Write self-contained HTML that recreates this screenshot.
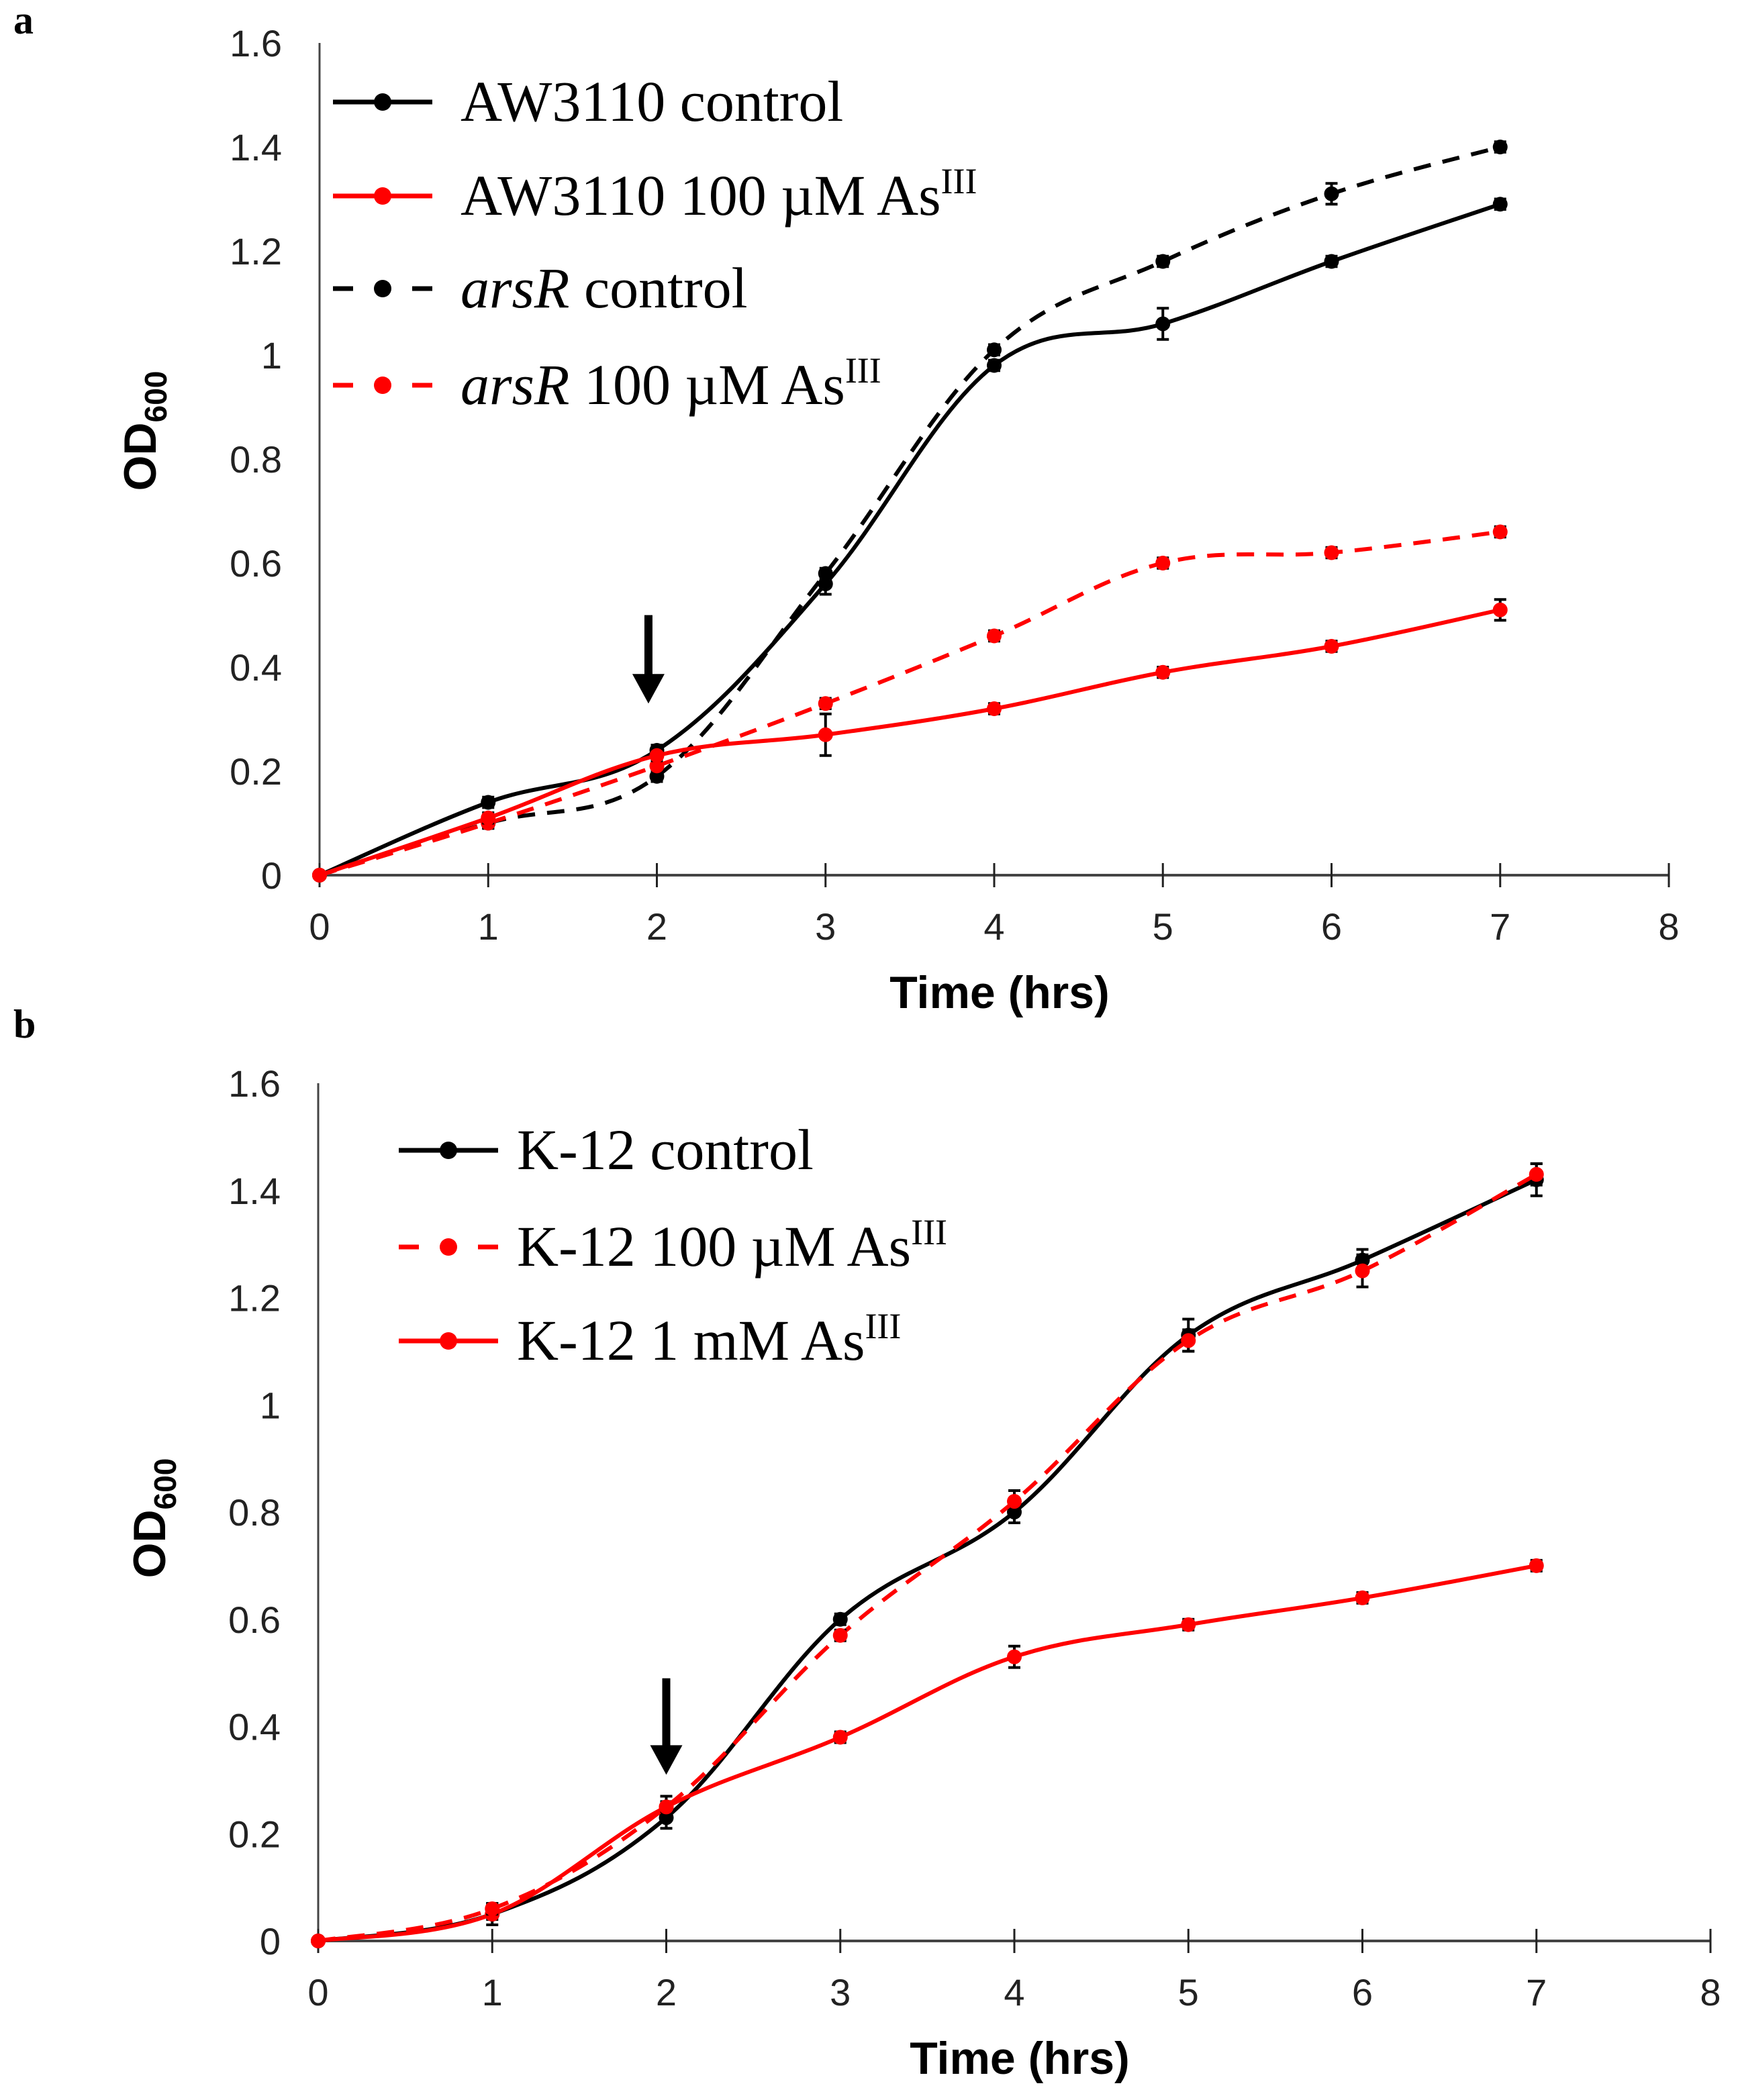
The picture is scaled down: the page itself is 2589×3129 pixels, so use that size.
<!DOCTYPE html>
<html><head><meta charset="utf-8"><style>
html,body{margin:0;padding:0;background:#fff}
svg{display:block}
.tk{font-family:"Liberation Sans",sans-serif;font-size:56px;fill:#222}
.ttl{font-family:"Liberation Sans",sans-serif;font-size:68px;font-weight:bold;fill:#000}
.lg{font-family:"Liberation Serif",serif;font-size:86px;fill:#000}
.pl{font-family:"Liberation Serif",serif;font-size:60px;font-weight:bold}
</style></head><body>
<svg id="s" width="2589" height="3129" viewBox="0 0 2589 3129">
<text class="pl" x="20" y="50">a</text>
<text class="pl" x="20" y="1546">b</text>
</svg>
<script>
const hours=[0,1,2,3,4,5,6,7];
const yTicks=[0,0.2,0.4,0.6,0.8,1,1.2,1.4,1.6];
const yTickLabels=["0","0.2","0.4","0.6","0.8","1","1.2","1.4","1.6"];
const xTickLabels=["0","1","2","3","4","5","6","7","8"];
const aw3110Control=[0,0.14,0.24,0.56,0.98,1.06,1.18,1.29];
const aw3110As=[0,0.11,0.23,0.27,0.32,0.39,0.44,0.51];
const arsRControl=[0,0.10,0.19,0.58,1.01,1.18,1.31,1.40];
const arsRAs=[0,0.10,0.21,0.33,0.46,0.60,0.62,0.66];
const k12Control=[0,0.05,0.23,0.60,0.80,1.13,1.27,1.42];
const k12As100=[0,0.06,0.25,0.57,0.82,1.12,1.25,1.43];
const k12As1mM=[0,0.05,0.25,0.38,0.53,0.59,0.64,0.70];
const aw3110ControlErr=[0,0.01,0.01,0.02,0.01,0.03,0.01,0.01];
const aw3110AsErr=[0,0.01,0.01,0.04,0.01,0.01,0.01,0.02];
const arsRControlErr=[0,0.01,0.01,0.01,0.01,0.01,0.02,0.01];
const arsRAsErr=[0,0.01,0.01,0.01,0.01,0.01,0.01,0.01];
const k12ControlErr=[0,0.02,0.02,0.01,0.02,0.03,0.02,0.03];
const k12As100Err=[0,0.01,0.02,0.01,0.02,0.02,0.03,0.02];
const k12As1mMErr=[0,0.01,0.01,0.01,0.02,0.01,0.01,0.01];

const NS="http://www.w3.org/2000/svg";
const svg=document.getElementById('s');
function mk(tag,attrs,parent){const e=document.createElementNS(NS,tag);for(const k in attrs)e.setAttribute(k,attrs[k]);(parent||svg).appendChild(e);return e;}

function panel(p){
  const X=v=>p.x0+(p.x8-p.x0)*v/8;
  const Y=v=>p.y0-(p.y0-p.y16)*v/1.6;
  const g=mk('g',{});
  
  
  const ya=mk('line',{x1:p.x0,y1:p.y16,x2:p.x0,y2:p.y0,stroke:'#444','stroke-width':3},g);
  
  
  const xa=mk('line',{x1:p.x0,y1:p.y0,x2:p.x8,y2:p.y0,stroke:'#444','stroke-width':4},g);
  
  
  yTicks.forEach((v,i)=>{
    const t=mk('text',{x:p.x0-56,y:Y(v)+20,'text-anchor':'end',class:'tk'},g);
    t.textContent=yTickLabels[i];
    
    
  });
  xTickLabels.forEach((l,i)=>{
    const tk=mk('line',{x1:X(i),y1:p.y0-18,x2:X(i),y2:p.y0+18,stroke:'#222','stroke-width':3},g);
    
    
    const t=mk('text',{x:X(i),y:p.y0+96,'text-anchor':'middle',class:'tk'},g);
    t.textContent=l;
    
    
  });
  const xt=mk('text',{x:(p.x0+p.x8)/2+8,y:p.y0+198,'text-anchor':'middle',class:'ttl'},g);
  xt.textContent='Time (hrs)';
  
  
  const yt=mk('text',{x:0,y:0,'text-anchor':'middle',class:'ttl',transform:`translate(${p.ylx},${p.ylc}) rotate(-90)`},g);
  yt.innerHTML='OD<tspan font-size="46" dy="16">600</tspan>';
  
  
  const ar=mk('g',{},g);
  
  
  const ax=X(p.arrow[0]);
  mk('line',{x1:ax,y1:Y(p.arrow[1]),x2:ax,y2:Y(p.arrow[2])-40,stroke:'#000','stroke-width':12},ar);
  mk('polygon',{points:`${ax-24},${Y(p.arrow[2])-44} ${ax+24},${Y(p.arrow[2])-44} ${ax},${Y(p.arrow[2])}`,fill:'#000'},ar);
  p.series.forEach(s=>{
    const sg=mk('g',{},g);
    
    
    const pts=hours.map((h,i)=>[X(h),Y(s.data[i])]);
    let d=`M${pts[0][0]},${pts[0][1]}`;
    for(let i=0;i<pts.length-1;i++){
      const p0=pts[Math.max(0,i-1)],p1=pts[i],p2=pts[i+1],p3=pts[Math.min(pts.length-1,i+2)];
      const t=0.18;
      d+=` C${p1[0]+(p2[0]-p0[0])*t},${p1[1]+(p2[1]-p0[1])*t} ${p2[0]-(p3[0]-p1[0])*t},${p2[1]-(p3[1]-p1[1])*t} ${p2[0]},${p2[1]}`;
    }
    mk('path',{d:d,fill:'none',stroke:s.color,'stroke-width':6,'stroke-dasharray':s.dash?'26,18':'none'},sg);
    pts.forEach((pt,i)=>{
      const e=(p.y0-p.y16)*s.err[i]/1.6;
      if(e>0){
        mk('line',{x1:pt[0],y1:pt[1]-e,x2:pt[0],y2:pt[1]+e,stroke:'#000','stroke-width':4},sg);
        mk('line',{x1:pt[0]-9,y1:pt[1]-e,x2:pt[0]+9,y2:pt[1]-e,stroke:'#000','stroke-width':4},sg);
        mk('line',{x1:pt[0]-9,y1:pt[1]+e,x2:pt[0]+9,y2:pt[1]+e,stroke:'#000','stroke-width':4},sg);
      }
      const c=mk('circle',{cx:pt[0],cy:pt[1],r:11,fill:s.color},sg);
      
      
    });
  });
}
const sup='As<tspan font-size="54" dy="-32">III</tspan>';
panel({name:'panel-a-chart',x0:476,x8:2486,y0:1304,y16:64,ylx:232,ylc:642,arrow:[1.95,0.5,0.33],
 series:[
  {name:'series-aw3110-control',data:aw3110Control,err:aw3110ControlErr,color:'#000',dash:false},
  {name:'series-arsr-control',data:arsRControl,err:arsRControlErr,color:'#000',dash:true},
  {name:'series-arsr-100um-as',data:arsRAs,err:arsRAsErr,color:'#f00',dash:true},
  {name:'series-aw3110-100um-as',data:aw3110As,err:aw3110AsErr,color:'#f00',dash:false}]});
panel({name:'panel-b-chart',x0:474,x8:2548,y0:2892,y16:1614,ylx:246,ylc:2262,arrow:[2,0.49,0.31],
 series:[
  {name:'series-k12-control',data:k12Control,err:k12ControlErr,color:'#000',dash:false},
  {name:'series-k12-1mm-as',data:k12As1mM,err:k12As1mMErr,color:'#f00',dash:false},
  {name:'series-k12-100um-as',data:k12As100,err:k12As100Err,color:'#f00',dash:true}]});
function legend(x,tx,ys,items,name){
  const lg=mk('g',{});
  
  
  items.forEach((it,i)=>{
    const y=ys[i];
    const eg=mk('g',{},lg);
    
    
    if(it.dash){
      mk('line',{x1:x,y1:y,x2:x+30,y2:y,stroke:it.color,'stroke-width':7},eg);
      mk('line',{x1:x+118,y1:y,x2:x+148,y2:y,stroke:it.color,'stroke-width':7},eg);
    } else {
      mk('line',{x1:x,y1:y,x2:x+148,y2:y,stroke:it.color,'stroke-width':7},eg);
    }
    mk('circle',{cx:x+74,cy:y,r:13,fill:it.color},eg);
    const t=mk('text',{x:tx,y:y+28,class:'lg'},eg);
    t.innerHTML=it.html;
  });
}
legend(496,686,[152,292,430,574],[
 {color:'#000',dash:false,html:'AW3110 control'},
 {color:'#f00',dash:false,html:'AW3110 100 µM '+sup},
 {color:'#000',dash:true,html:'<tspan font-style="italic">arsR</tspan> control'},
 {color:'#f00',dash:true,html:'<tspan font-style="italic">arsR</tspan> 100 µM '+sup}],'legend-a');
legend(594,770,[1714,1858,1998],[
 {color:'#000',dash:false,html:'K-12 control'},
 {color:'#f00',dash:true,html:'K-12 100 µM '+sup},
 {color:'#f00',dash:false,html:'K-12 1 mM '+sup}],'legend-b');
</script>
</body></html>
